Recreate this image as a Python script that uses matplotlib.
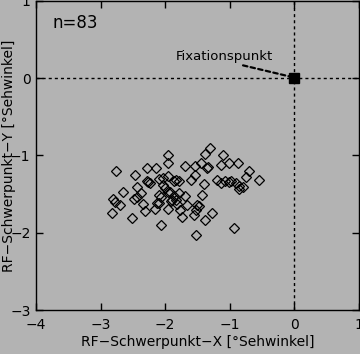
import numpy as np
import matplotlib
matplotlib.use('Agg')
import matplotlib.pyplot as plt

# RF centres (deg visual angle)
rf_x = [-1.95, -1.96, -2.76, -2.28, -2.14, -2.47, -1.95, -2.10, -1.84, -2.28,
        -2.23, -2.04, -2.44, -2.65, -2.37, -1.96, -2.07, -2.81, -2.48, -2.77,
        -2.70, -2.34, -2.12, -1.89, -2.32, -2.15, -1.96, -2.82, -2.52, -2.06,
        -1.30, -1.38, -1.11, -1.69, -1.54, -1.44, -1.33, -1.13, -1.01, -0.88,
        -0.70, -0.75, -0.55, -1.54, -1.60, -1.87, -1.79, -1.40, -1.19, -1.13,
        -1.07, -1.01, -0.91, -0.85, -0.80, -1.43, -1.78, -1.69, -1.91, -1.83,
        -2.09, -2.10, -1.77, -1.66, -1.48, -1.52, -1.56, -1.28, -1.74, -1.39,
        -0.93, -1.52, -2.01, -1.92, -1.86, -2.27, -2.04, -1.35, -0.98, -0.85,
        -1.81, -1.50, -2.44]
rf_y = [-1.00, -1.10, -1.20, -1.16, -1.16, -1.25, -1.27, -1.31, -1.32, -1.33,
        -1.36, -1.38, -1.41, -1.47, -1.48, -1.47, -1.54, -1.56, -1.57, -1.60,
        -1.64, -1.63, -1.61, -1.58, -1.72, -1.69, -1.69, -1.75, -1.81, -1.90,
        -0.90, -0.98, -1.00, -1.14, -1.14, -1.10, -1.15, -1.12, -1.10, -1.10,
        -1.20, -1.28, -1.32, -1.25, -1.32, -1.33, -1.33, -1.37, -1.32, -1.36,
        -1.33, -1.35, -1.36, -1.44, -1.41, -1.51, -1.48, -1.53, -1.59, -1.58,
        -1.51, -1.62, -1.70, -1.64, -1.66, -1.71, -1.77, -1.75, -1.80, -1.84,
        -1.94, -2.03, -1.42, -1.47, -1.52, -1.35, -1.29, -1.16, -1.33, -1.39,
        -1.63, -1.64, -1.54]

fix_x, fix_y = 0, 0
xticks = [-4, -3, -2, -1, 0, 1]
yticks = [-3, -2, -1, 0, 1]

bg = '#b3b3b3'
plt.rcParams['font.family'] = 'DejaVu Sans'

fig = plt.figure(figsize=(3.6, 3.54), dpi=100, facecolor=bg)
ax = fig.add_axes([0.1, 0.124, 0.897, 0.874], facecolor=bg)

ax.axhline(0, color='black', lw=1, ls=(0, (2.2, 2.2)), zorder=1)
ax.axvline(0, color='black', lw=1, ls=(0, (2.2, 2.2)), zorder=1)

ax.plot(rf_x, rf_y, ls='none', marker='D', ms=5.0, mfc='none', mec='black', mew=0.9)
ax.plot([fix_x], [fix_y], ls='none', marker='s', ms=7, color='black', zorder=5)

ax.annotate('Fixationspunkt', xy=(fix_x - 0.07, fix_y + 0.02), xytext=(-1.08, 0.2),
            fontsize=9.5, ha='center', va='bottom',
            arrowprops=dict(arrowstyle='-', color='black', lw=1.6, ls=(0, (2, 1.5)),
                            shrinkA=0, shrinkB=0, relpos=(0.57, 0.0)))
ax.text(-3.74, 0.71, 'n=83', fontsize=12, ha='left', va='center')

ax.set_xlim(-4, 1)
ax.set_ylim(-3, 1)
ax.set_xticks(xticks)
ax.set_yticks(yticks)
ax.set_xticklabels(['\u2212%d' % -t if t < 0 else str(t) for t in xticks], fontsize=10)
ax.set_yticklabels(['\u2212%d' % -t if t < 0 else str(t) for t in yticks], fontsize=10)
ax.tick_params(direction='in', length=5, width=1, top=True, right=True)
ax.tick_params(axis='x', pad=6)
ax.tick_params(axis='y', pad=4)
for s in ax.spines.values():
    s.set_linewidth(1)

ax.set_xlabel('RF\u2212Schwerpunkt\u2212X [\u00b0Sehwinkel]', fontsize=10, labelpad=2)
ax.set_ylabel('RF\u2212Schwerpunkt\u2212Y [\u00b0Sehwinkel]', fontsize=10)
ax.yaxis.set_label_coords(-0.062, 0.5)

plt.savefig('out.png', dpi=100, facecolor=bg)
